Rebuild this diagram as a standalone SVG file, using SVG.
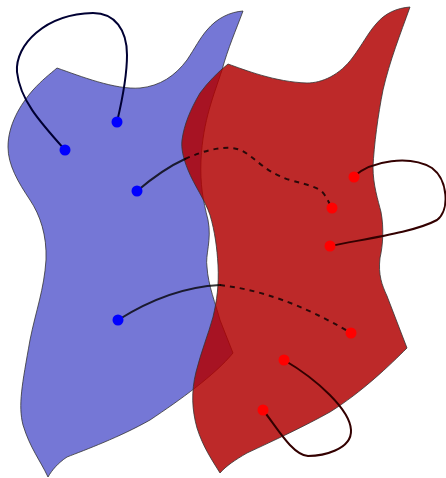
<svg xmlns="http://www.w3.org/2000/svg" width="446" height="478" viewBox="0 0 446 478">
  <style>
    .sheet { stroke: #333; stroke-width: 0.8; stroke-linejoin: round; }
    .blue { fill: #7577d6; }
    .red { fill: #b00000; fill-opacity: 0.84; }
    .link { fill: none; stroke-width: 2; stroke-linecap: round; }
    .cross { stroke: #000; stroke-opacity: 0.78; }
    .dash { stroke-dasharray: 5 5; stroke-linecap: butt; }
    .navy { stroke: #000033; }
    .maroon { stroke: #330000; }
    .bdot { fill: #0000ff; }
    .rdot { fill: #ff0000; }
  </style>

  <g id="sheet-blue">
    <path class="sheet blue" d="M57,68 C80,76 115,90 140,88 C160,86 175,76 187,60 C195,48 200,38 207,30 C217,18 230,12 243,11 C236,30 228,48 222,70 C214,95 203,120 201,160 C200,185 203,200 208,220 C212,240 205,255 207,267 C208,285 216,305 220,320 L233,353 C215,375 180,400 150,420 C120,437 85,450 67,457 C58,463 52,470 48,477 C40,460 30,448 23,425 C18,405 22,385 30,340 C36,310 44,290 46,260 C47,235 40,215 30,200 C18,182 8,165 8,147 C8,125 20,105 33,90 C42,80 50,74 57,68 Z"/>
  </g>

  <g id="sheet-red">
    <path class="sheet red" d="M228,64 C245,70 275,82 307,83 C322,83 340,75 353,57 C362,45 368,33 376,24 C385,13 397,8 410,7 C400,35 390,60 383,90 C378,115 374,145 373,167 C373,185 378,200 381,212 C384,228 383,245 380,258 C378,275 382,285 387,296 L407,348 C390,365 362,392 330,412 C305,426 275,440 247,453 C235,460 226,466 220,473 C212,460 203,447 197,428 C192,410 191,392 196,372 C201,352 208,335 213,317 C217,300 219,285 218,265 C217,248 215,232 210,215 C205,200 194,185 188,170 C183,158 181,148 182,140 C184,125 190,110 200,93 C208,82 218,72 228,64 Z"/>
  </g>

  <g id="connectors">
    <!-- loop inside the blue sheet -->
    <path class="link navy" d="M65,150 C40,122 20,100 17,72 C15,45 45,14 93,13 C115,13 127,30 127,55 C127,80 121,105 117,122"/>
    <!-- upper crossing link -->
    <path class="link cross" d="M137,191 C150,180 165,168 185,159"/>
    <path class="link cross dash" d="M185,159 C203,151 218,147 232,148 C252,150 258,170 290,180 C312,186 320,188 324,194 C328,200 330,204 331,208"/>
    <!-- lower crossing link -->
    <path class="link cross" d="M118,320 C145,303 180,287 220,285"/>
    <path class="link cross dash" d="M220,285 C260,290 300,303 351,333"/>
    <!-- loops on the red sheet -->
    <path class="link maroon" d="M353,177 C372,160 410,155 432,168 C448,180 450,210 437,220 C415,232 370,238 330,246"/>
    <path class="link maroon" d="M284,360 C318,380 350,410 351,430 C352,450 322,456 308,456 C292,455 276,426 263,410"/>
  </g>

  <g id="points-blue">
    <circle class="bdot" cx="65" cy="150" r="5.5"/>
    <circle class="bdot" cx="117" cy="122" r="5.5"/>
    <circle class="bdot" cx="137" cy="191" r="5.5"/>
    <circle class="bdot" cx="118" cy="320" r="5.5"/>
  </g>

  <g id="points-red">
    <circle class="rdot" cx="354" cy="177" r="5.5"/>
    <circle class="rdot" cx="332" cy="208" r="5.5"/>
    <circle class="rdot" cx="330" cy="246" r="5.5"/>
    <circle class="rdot" cx="351" cy="333" r="5.5"/>
    <circle class="rdot" cx="284" cy="360" r="5.5"/>
    <circle class="rdot" cx="263" cy="410" r="5.5"/>
  </g>
</svg>
